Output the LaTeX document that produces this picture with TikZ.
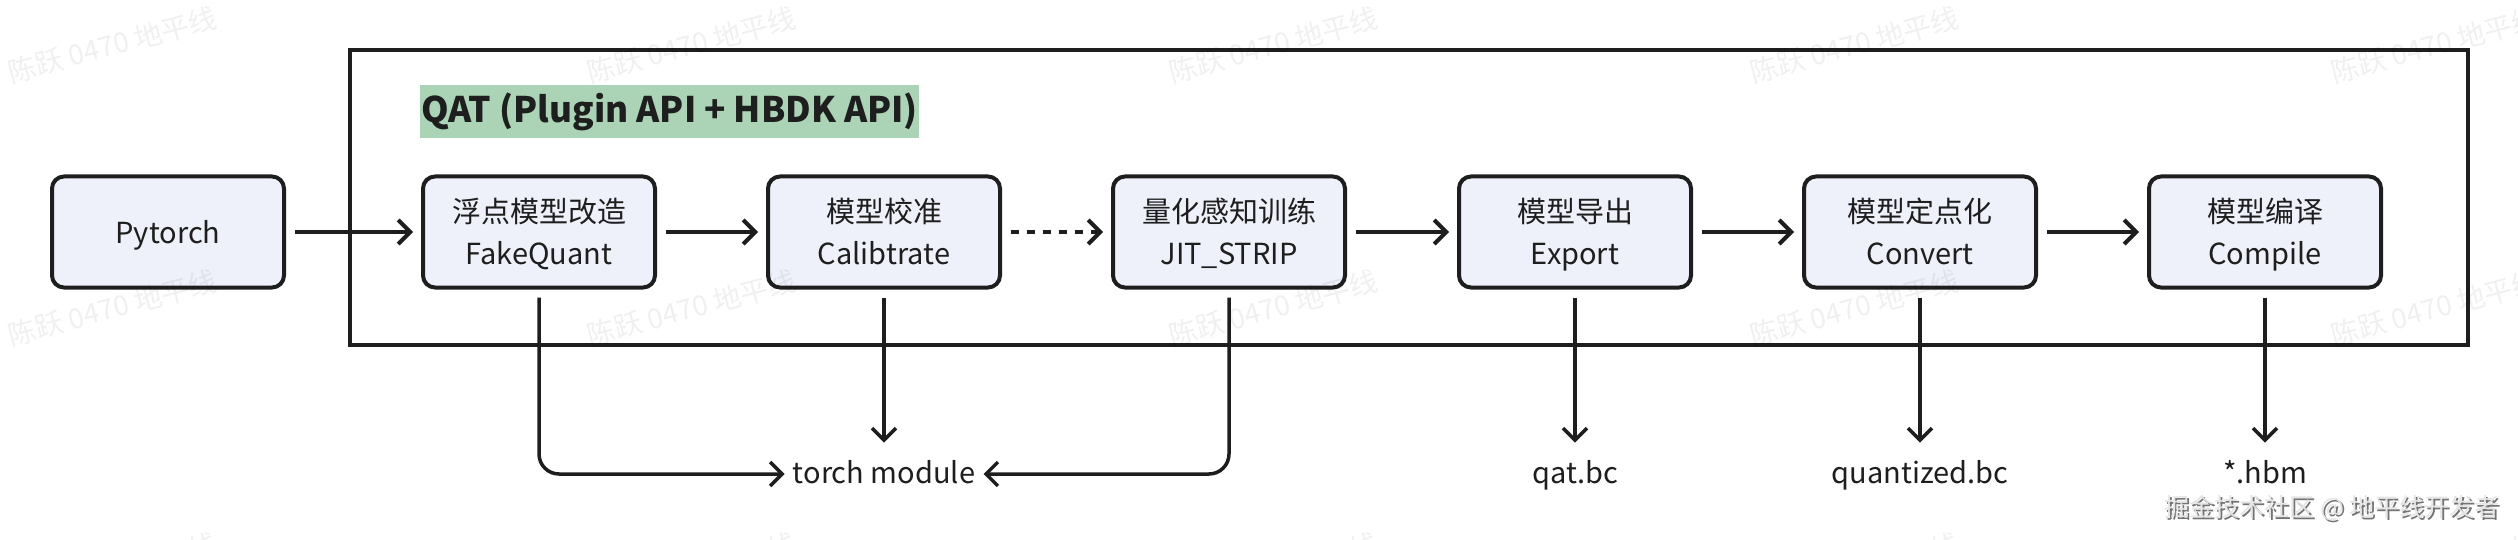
\documentclass[tikz,border=0pt]{standalone}
\usepackage{fontspec}
\setmainfont{Noto Sans CJK SC}
\usetikzlibrary{arrows.meta}
\definecolor{boxfill}{RGB}{238,241,250}
\definecolor{hl}{RGB}{170,212,181}
\definecolor{ink}{RGB}{30,30,30}
\newcommand\mytopstrut{\rule{0pt}{17.7pt}}
\begin{document}
\begin{tikzpicture}[x=0.5pt,y=-0.5pt,
  stepbox/.style={draw=ink, line width=2pt, rounded corners=6pt, fill=boxfill,
    minimum width=116pt, minimum height=55.5pt, align=center, inner sep=0pt,
    text=ink, font=\fontsize{14.5pt}{21pt}\selectfont},
  flow/.style={draw=ink, line width=2pt, -{Straight Barb[length=6pt,width=12pt]},
    shorten <=4.5pt, shorten >=4pt},
  down/.style={draw=ink, line width=1.75pt, -{Straight Barb[length=6pt,width=12pt]},
    shorten <=4pt},
  lbl/.style={text=ink, font=\fontsize{14.5pt}{18pt}\selectfont, inner sep=0pt,
    text height=12pt, text depth=3pt, anchor=base},
  wmark/.style={rotate=15, text=black, text opacity=0.06, font=\fontsize{14pt}{14pt}\selectfont},
]
\fill[white] (0,0) rectangle (2518,540);
\useasboundingbox (0,0) rectangle (2518,540);

% outer frame
\draw[draw=ink, line width=2.25pt] (350,50) rectangle (2468,345);

% title
\node[fill=hl, anchor=west, inner xsep=0.5pt, inner ysep=0pt, minimum height=26.5pt,
  text=ink, font=\bfseries\fontsize{17.6pt}{20pt}\selectfont] (title) at (420,111.5)
  {QAT (Plugin API + HBDK API)};

% boxes
\node[stepbox] (pt)  at (168,232)  {\mytopstrut\strut Pytorch};
\node[stepbox] (fq)  at (539,232)  {\mytopstrut\strut 浮点模型改造\\\strut FakeQuant};
\node[stepbox] (cal) at (884,232)  {\mytopstrut\strut 模型校准\\\strut Calibtrate};
\node[stepbox] (jit) at (1229,232) {\mytopstrut\strut 量化感知训练\\\strut JIT\_STRIP};
\node[stepbox] (exp) at (1575,232) {\mytopstrut\strut 模型导出\\\strut Export};
\node[stepbox] (cvt) at (1920,232) {\mytopstrut\strut 模型定点化\\\strut Convert};
\node[stepbox] (cmp) at (2265,232) {\mytopstrut\strut 模型编译\\\strut Compile};

% labels
\node[lbl] (tm)  at (884,483)  {torch module};
\node[lbl] (qat) at (1575,483) {qat.bc};
\node[lbl] (qz)  at (1920,483) {quantized.bc};
\node[lbl] (hbm) at (2265,483) {*.hbm};

% main flow
\draw[flow] (pt) -- (fq);
\draw[flow] (fq) -- (cal);
\draw[flow, dash pattern=on 4pt off 4pt] (cal) -- (jit);
\draw[flow] (jit) -- (exp);
\draw[flow] (exp) -- (cvt);
\draw[flow] (cvt) -- (cmp);

% down arrows
\draw[down, shorten >=8pt] (cal.south) -- (cal.south |- tm.north);
\draw[down, shorten >=8pt] (exp.south) -- (exp.south |- qat.north);
\draw[down, shorten >=8pt] (cvt.south) -- (cvt.south |- qz.north);
\draw[down, shorten >=8pt] (cmp.south) -- (cmp.south |- hbm.north);
\draw[down, rounded corners=10pt, shorten >=4pt] (fq.south) -- (fq.south |- tm.west) -- (tm.west);
\draw[down, rounded corners=10pt, shorten >=4pt] (jit.south) -- (jit.south |- tm.east) -- (tm.east);

% watermarks
\foreach \wx in {112,691,1273,1854,2435}{
  \foreach \wy in {45,308,571}{
    \node[wmark] (w-\wx-\wy) at (\wx,\wy) {陈跃 0470 地平线};
  }
}
\node[text=black!55, font=\fontsize{12.5pt}{14pt}\selectfont] (jjs) at (2334,510) {掘金技术社区 @ 地平线开发者};
\node[text=black!10, font=\fontsize{12.5pt}{14pt}\selectfont] (jj) at (2332,508) {掘金技术社区 @ 地平线开发者};
\end{tikzpicture}
\end{document}
